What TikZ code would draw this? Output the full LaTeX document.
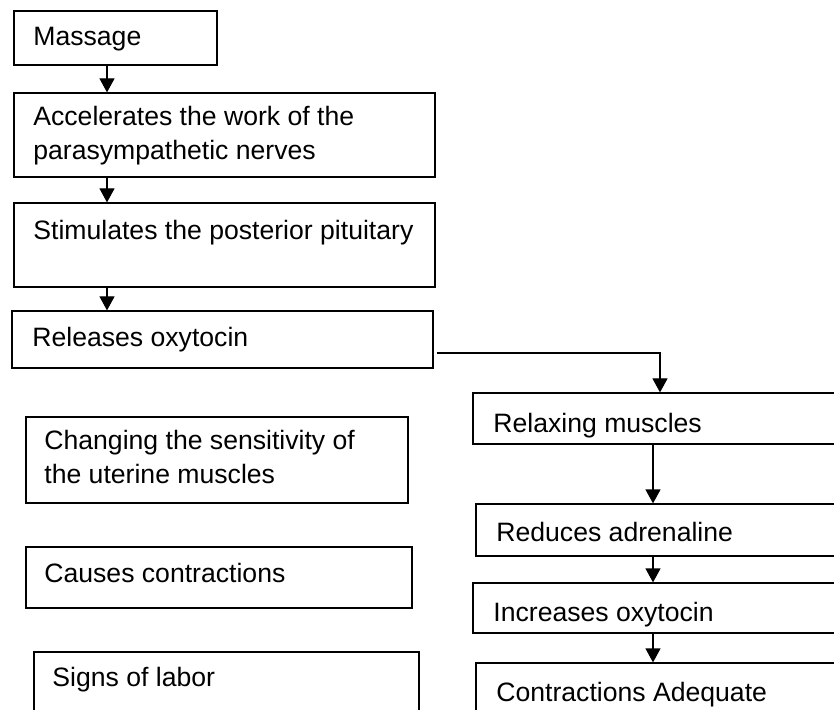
\documentclass[tikz,border=0pt]{standalone}
\usepackage{fontspec}
\setmainfont{Liberation Sans}
\usetikzlibrary{arrows.meta,calc,fit}

\tikzset{
	box/.style={draw,line width=0.6pt,inner sep=0,rectangle},
	txt/.style={anchor=base west,inner sep=0,align=left,font=\fontsize{13.3}{17}\selectfont},
	arr/.style={line width=0.6pt,-{Triangle[length=7pt,width=7.5pt]}}
}

\begin{document}
\begin{tikzpicture}[x=0.5pt,y=-0.5pt]

			\useasboundingbox (0,0) rectangle (834,710);
			\clip (0,0) rectangle (834,710);

			% left column
			\node[box,fit={(14,11) (217,65)}] (massage) {};
			\node[box,fit={(14,93) (435,177)}] (accel) {};
			\node[box,fit={(14,203) (435,287)}] (stim) {};
			\node[box,fit={(12,311) (433,368)}] (release) {};
			\node[box,fit={(26,417) (408,503)}] (change) {};
			\node[box,fit={(26,547) (412,608)}] (causes) {};
			\node[box,fit={(34,652) (419,740)}] (signs) {};

			% right column
			\node[box,fit={(473,393) (850,444)}] (relax) {};
			\node[box,fit={(476,504) (850,556)}] (reduce) {};
			\node[box,fit={(473,583) (850,633)}] (incr) {};
			\node[box,fit={(476,663) (850,740)}] (adequate) {};

			% texts (two-line ones sit on their last baseline)
			\node[txt] (massagetxt) at (33,46) {Massage};
			\node[txt] (acceltxt) at (33,160) {Accelerates the work of the\\parasympathetic nerves};
			\node[txt] (stimtxt) at (33,240) {Stimulates the posterior pituitary};
			\node[txt] (releasetxt) at (32,347) {Releases oxytocin};
			\node[txt] (changetxt) at (44,483) {Changing the sensitivity of\\the uterine muscles};
			\node[txt] (causestxt) at (44,582) {Causes contractions};
			\node[txt] (signstxt) at (52,686) {Signs of labor};
			\node[txt] (relaxtxt) at (493,432) {Relaxing muscles};
			\node[txt] (reducetxt) at (496,541) {Reduces adrenaline};
			\node[txt] (incrtxt) at (493,621) {Increases oxytocin};
			\node[txt] (adequatetxt) at (496,701) {Contractions Adequate};

			\coordinate (lcol) at (107,0);
			\coordinate (rcol) at (653,0);
			\coordinate (bend) at (660,353);

			\draw[arr] (massage.south -| lcol) -- (accel.north -| lcol);
			\draw[arr] (accel.south -| lcol) -- (stim.north -| lcol);
			\draw[arr] (stim.south -| lcol) -- (release.north -| lcol);

			\draw[arr] ([xshift=1.5pt]release.east |- bend) -- (bend) -- (relax.north -| bend);

			\draw[arr] (relax.south -| rcol) -- (reduce.north -| rcol);
			\draw[arr] (reduce.south -| rcol) -- (incr.north -| rcol);
			\draw[arr] (incr.south -| rcol) -- (adequate.north -| rcol);

		\end{tikzpicture}
\end{document}
